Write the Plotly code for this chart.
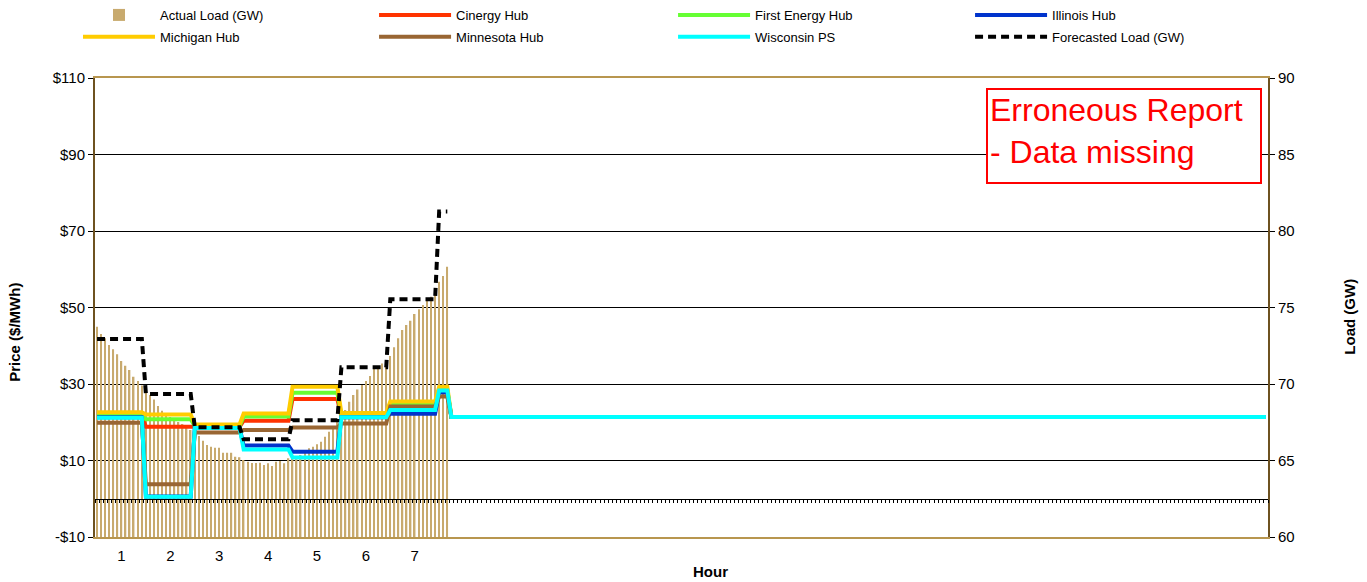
import numpy as np
import plotly.graph_objects as go

# ---------------- data ----------------
INTERVALS_PER_HOUR = 12          # 5-minute intervals
N_INTERVALS = 288                # one day of 5-minute intervals
hour_labels = ["1", "2", "3", "4", "5", "6", "7"]

# Actual load (GW), one value per 5-minute interval (reported part only)
actual_load = [
    73.75, 73.27, 72.99, 72.55, 72.27, 71.94, 71.50, 71.20, 70.92, 70.48, 70.20, 69.90,
    69.58, 69.28, 68.99, 68.56, 68.25, 68.04, 67.84, 67.65, 67.52, 67.39, 67.19, 66.99,
    66.86, 66.60, 66.29, 66.01, 65.90, 65.84, 65.84, 65.51, 65.51, 65.51, 65.25, 65.21,
    65.03, 64.92, 64.84, 64.84, 64.86, 64.71, 64.82, 64.64, 64.92, 64.97, 64.82, 65.14,
    65.23, 65.29, 65.36, 65.58, 65.80, 65.90, 66.06, 66.23, 66.56, 66.88, 67.21, 67.58,
    67.86, 68.30, 68.84, 69.28, 69.64, 69.93, 70.20, 70.52, 71.01, 71.18, 71.34, 71.50,
    71.83, 72.40, 72.99, 73.53, 73.86, 74.14, 74.58, 74.88, 75.16, 75.42, 75.71, 76.19,
    76.69, 77.06, 77.67,
]

# Hourly values (hours 1..8, hour 8 only partially reported)
forecast_load = [72.94, 69.35, 67.17, 66.39, 67.63, 71.09, 75.54, 81.27]

cinergy_hub      = [21.8, 18.8, 18.8, 20.4, 26.1, 21.6, 23.6, 28.0]
first_energy_hub = [22.0, 20.8, 19.0, 21.5, 27.7, 21.8, 24.7, 28.4]
illinois_hub     = [21.3, 0.6, 18.5, 13.9, 12.3, 21.3, 22.2, 27.8]
michigan_hub     = [22.6, 22.0, 19.4, 22.3, 29.3, 22.4, 25.4, 29.3]
minnesota_hub    = [19.9, 3.8, 17.3, 18.0, 18.6, 19.7, 24.1, 26.7]
wisconsin_ps     = [21.2, 0.5, 18.5, 12.9, 10.8, 21.3, 23.2, 28.3]

# price shown for the rest of the (erroneous) day
missing_price = 21.4

price_ticks = [-10, 10, 30, 50, 70, 90, 110]
price_tick_text = ["-$10", "$10", "$30", "$50", "$70", "$90", "$110"]

# ---------------- build series ----------------
n_rep = len(actual_load)
x_all = np.arange(N_INTERVALS)
x_rep = np.arange(n_rep)


def reported(hourly):
    return np.repeat(hourly, INTERVALS_PER_HOUR)[:n_rep]


def full_day(hourly):
    return np.concatenate([reported(hourly), np.full(N_INTERVALS - n_rep, missing_price)])


FONT = "Liberation Sans, Arial, sans-serif"

fig = go.Figure()

fig.add_trace(go.Bar(
    x=x_rep, y=actual_load, name="Actual Load (GW)",
    marker=dict(color="#C8AA6E", line=dict(width=0)), width=0.36,
    xaxis="x", yaxis="y", legend="legend", legendgroup="a",
))

price_series = [
    ("Cinergy Hub", cinergy_hub, "#FF3300", "legend2"),
    ("First Energy Hub", first_energy_hub, "#66FF33", "legend3"),
    ("Illinois Hub", illinois_hub, "#0033CC", "legend4"),
    ("Michigan Hub", michigan_hub, "#FFCC00", "legend"),
    ("Minnesota Hub", minnesota_hub, "#996633", "legend2"),
    ("Wisconsin PS", wisconsin_ps, "#00FFFF", "legend3"),
]
for name, vals, col, lg in price_series:
    fig.add_trace(go.Scatter(
        x=x_all, y=full_day(vals), name=name, mode="lines",
        line=dict(color=col, width=4), xaxis="x2", yaxis="y2",
        legend=lg, legendgroup=name,
    ))

fig.add_trace(go.Scatter(
    x=x_rep, y=reported(forecast_load), name="Forecasted Load (GW)", mode="lines",
    line=dict(color="black", width=4, dash="8px,5px"), xaxis="x2", yaxis="y3",
    legend="legend4", legendgroup="f",
))

xr = [-0.5, N_INTERVALS - 0.5]
legend_common = dict(orientation="v", yanchor="top", xanchor="left", y=1.17,
                     bgcolor="rgba(0,0,0,0)", font=dict(family=FONT, size=13, color="black"),
                     tracegroupgap=2, itemwidth=72)

fig.update_layout(
    width=1367, height=582,
    margin=dict(l=95, r=99, t=78, b=45, autoexpand=False),
    paper_bgcolor="white", plot_bgcolor="white",
    font=dict(family=FONT, size=15, color="black"),
    showlegend=True,
    xaxis=dict(range=xr, tickmode="array",
               tickvals=[INTERVALS_PER_HOUR * i + 6 for i in range(len(hour_labels))],
               ticktext=hour_labels, showgrid=False, zeroline=False,
               showline=True, linecolor="#B8964F", linewidth=2, mirror=True,
               ticks="outside", ticklen=4, tickcolor="rgba(0,0,0,0)"),
    xaxis2=dict(overlaying="x", anchor="free", position=10 / 120, range=xr,
                showgrid=False, zeroline=False, showticklabels=False,
                ticks="outside", tickmode="linear", tick0=-0.5, dtick=1,
                ticklen=3, tickcolor="black", tickwidth=1,
                showline=True, linecolor="black", linewidth=1),
    yaxis=dict(side="right", range=[60, 90], tickmode="linear", tick0=60, dtick=5,
               showgrid=False, zeroline=False, showline=True, linecolor="#6E5220",
               linewidth=2, ticks="outside", ticklen=5, tickcolor="black"),
    yaxis2=dict(overlaying="y", side="left", range=[-10, 110], tickmode="array",
                tickvals=price_ticks, ticktext=price_tick_text,
                showgrid=True, gridcolor="black", gridwidth=1, zeroline=False,
                showline=True, linecolor="#6E5220", linewidth=2,
                ticks="outside", ticklen=5, tickcolor="black"),
    yaxis3=dict(overlaying="y", range=[60, 90], visible=False),
    legend=dict(x=-0.0145, **legend_common),
    legend2=dict(x=0.2379, **legend_common),
    legend3=dict(x=0.4928, **legend_common),
    legend4=dict(x=0.7460, **legend_common),
    annotations=[
        dict(text="Erroneous Report<br>- Data missing", xref="paper", yref="paper",
             x=0.7596, y=0.978, xanchor="left", yanchor="top", align="left",
             showarrow=False, font=dict(family=FONT, size=32, color="#FF0000"),
             bordercolor="#FF0000", borderwidth=2, borderpad=2, bgcolor="white",
             width=268, height=88, valign="top"),
        dict(text="<b>Price ($/MWh)</b>", xref="paper", yref="paper", x=-0.0682, y=0.445,
             xanchor="center", yanchor="middle",
             textangle=-90, showarrow=False, font=dict(family=FONT, size=15)),
        dict(text="<b>Load (GW)</b>", xref="paper", yref="paper", x=1.0699, y=0.48,
             xanchor="center", yanchor="middle",
             textangle=-90, showarrow=False, font=dict(family=FONT, size=15)),
        dict(text="<b>Hour</b>", xref="paper", yref="paper", x=0.5251, y=-0.0741,
             xanchor="center", yanchor="middle", showarrow=False,
             font=dict(family=FONT, size=15)),
    ],
)

fig.write_html("out.html", post_script="document.body.style.margin='0px';",
               config={"displayModeBar": False})
